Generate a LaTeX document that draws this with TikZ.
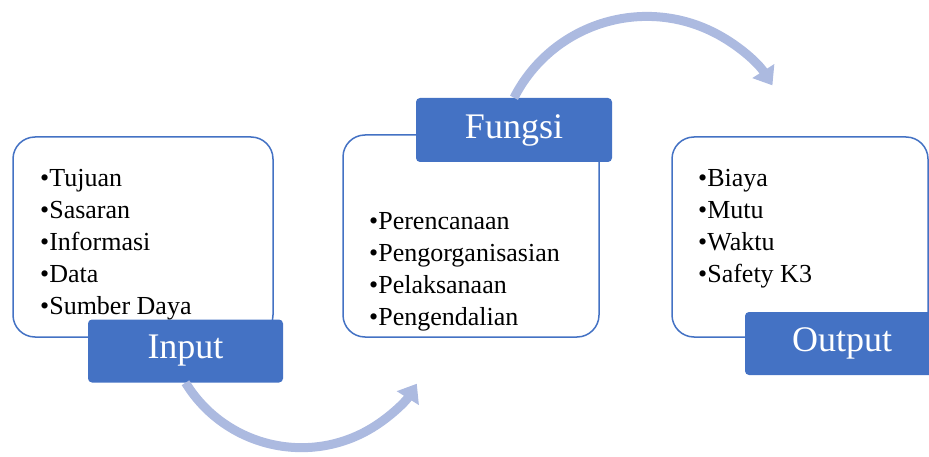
\documentclass[tikz,border=0pt]{standalone}
\usepackage{fontspec}
\setmainfont{Liberation Serif}
\usetikzlibrary{arrows.meta}
\definecolor{boxblue}{HTML}{4472C4}
\definecolor{flowblue}{RGB}{172,186,224}

\begin{document}
\begin{tikzpicture}[x=1pt, y=1pt,
    panel/.style={draw=boxblue, line width=1.5pt, rounded corners=22pt, fill=white, inner sep=0pt},
    tag/.style={fill=boxblue, rounded corners=4pt, text=white, minimum width=195pt,
      minimum height=63pt, inner sep=0pt, font=\fontsize{36}{40}\selectfont},
    items/.style={anchor=north west, align=left, inner sep=0pt, font=\fontsize{26}{32}\selectfont},
    flow/.style={draw=flowblue, line width=9pt, -{Triangle[length=17pt, width=25pt]}}]
  \useasboundingbox (0,0) rectangle (929,-457);
  % white panels
  \node[panel, minimum width=260pt, minimum height=200pt] (inbox) at (143,-237) {};
  \node[panel, minimum width=256pt, minimum height=202pt] (fnbox) at (471,-236) {};
  \node[panel, minimum width=256pt, minimum height=200pt] (outbox) at (800,-237) {};
  % lists
  \node[items] (inlist) at (40,-169) {•Tujuan\\•Sasaran\\•Informasi\\•Data\\•Sumber Daya};
  \node[items] (fnlist) at (369,-212) {•Perencanaan\\•Pengorganisasian\\•Pelaksanaan\\•Pengendalian};
  \node[items] (outlist) at (698,-169) {•Biaya\\•Mutu\\•Waktu\\•Safety K3};
  % blue tags
  \node[tag] (intag) at (185.5,-351) {\raisebox{-3pt}{Input}};
  \node[tag, minimum width=196pt, minimum height=64pt] (fntag) at (514,-130) {\raisebox{-2pt}{Fungsi}};
  \node[tag, minimum width=194pt] (outtag) at (842,-343.5) {\raisebox{-3pt}{Output}};
  % arrows
  \draw[flow] (intag.south) arc[start angle=211.5, end angle=328, radius=136];
  \draw[flow] (fntag.north) arc[start angle=153, end angle=32.5, radius=149];
\end{tikzpicture}
\end{document}
